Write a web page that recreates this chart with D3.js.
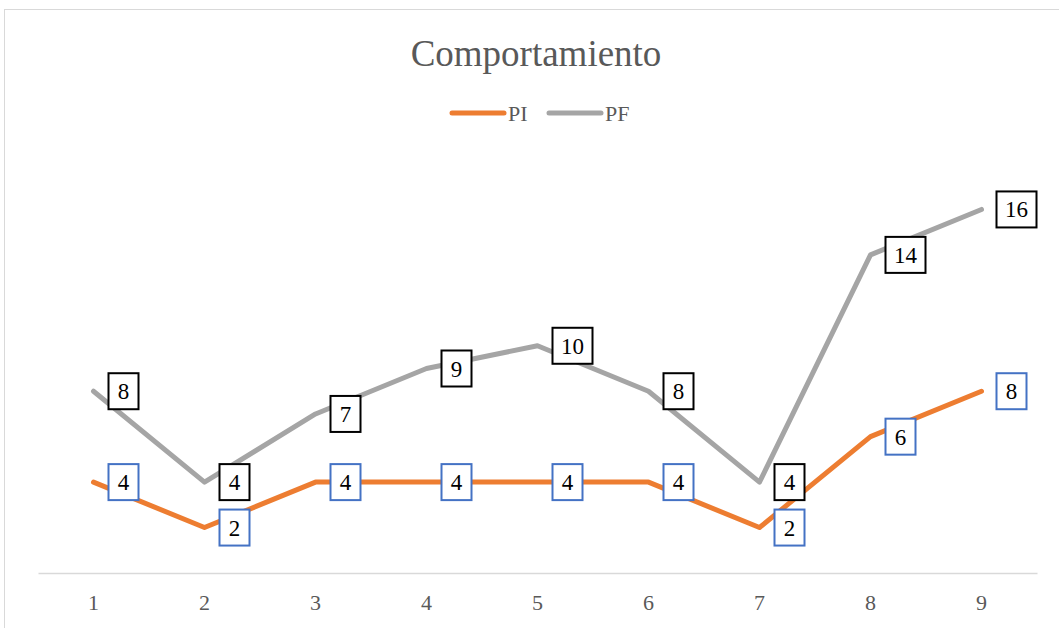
<!DOCTYPE html>
<html>
<head>
<meta charset="utf-8">
<script src="https://cdn.jsdelivr.net/npm/d3@7"></script>
<style>
  body { margin: 0; background: #fff; }
  svg { display: block; font-family: "Liberation Serif", "Times New Roman", serif; }
</style>
</head>
<body>
<svg id="chart" width="1059" height="628"></svg>
<script>
var categories = ["1", "2", "3", "4", "5", "6", "7", "8", "9"];
var piValues = [4, 2, 4, 4, 4, 4, 2, 6, 8];
var pfValues = [8, 4, 7, 9, 10, 8, 4, 14, 16];
var seriesNames = ["PI", "PF"];

var svg = d3.select("#chart");
var width = +svg.attr("width"),
    height = +svg.attr("height");

// chart area border (cut off at right and bottom like the original)
svg.append("rect")
  .attr("x", 4.5).attr("y", 9.5)
  .attr("width", 1100).attr("height", 700)
  .attr("fill", "#fff")
  .attr("stroke", "#d9d9d9");

var x = d3.scaleBand().domain(categories).range([38, 1037]);
var y = d3.scaleLinear().domain([0, 18]).range([573, 164]);

var series = [
  { name: seriesNames[0], values: piValues, color: "#ed7d31", box: "#4472c4" },
  { name: seriesNames[1], values: pfValues, color: "#a5a5a5", box: "#000000" }
];

// title
svg.append("text")
  .attr("x", 536).attr("y", 66)
  .attr("text-anchor", "middle")
  .attr("font-size", 37)
  .attr("fill", "#595959")
  .text("Comportamiento");

// legend
var legend = svg.append("g").attr("transform", "translate(452,113)");
series.forEach(function(s, i) {
  var lg = legend.append("g").attr("transform", "translate(" + (i * 97) + ",0)");
  lg.append("line")
    .attr("x1", 0).attr("x2", 52).attr("y1", 0).attr("y2", 0)
    .attr("stroke", s.color).attr("stroke-width", 5)
    .attr("stroke-linecap", "round");
  lg.append("text")
    .attr("x", 56).attr("y", 8)
    .attr("font-size", 22)
    .attr("fill", "#595959")
    .text(s.name);
});

// x axis
var xAxis = svg.append("g")
  .attr("transform", "translate(0," + y(0) + ")")
  .call(d3.axisBottom(x).tickSize(0).tickPadding(21));
xAxis.select(".domain").attr("stroke", "#d9d9d9").attr("stroke-width", 1.5);
xAxis.selectAll("text")
  .attr("font-family", "Liberation Serif, serif")
  .attr("font-size", 22)
  .attr("fill", "#595959");

var line = d3.line()
  .x(function(d, i) { return x(categories[i]) + x.bandwidth() / 2; })
  .y(function(d) { return y(d); });

// lines
series.forEach(function(s) {
  svg.append("path")
    .datum(s.values)
    .attr("d", line)
    .attr("fill", "none")
    .attr("stroke", s.color)
    .attr("stroke-width", 5)
    .attr("stroke-linejoin", "round")
    .attr("stroke-linecap", "round");
});

// data labels
series.forEach(function(s) {
  var g = svg.append("g");
  s.values.forEach(function(v, i) {
    var cx = x(categories[i]) + x.bandwidth() / 2;
    var cy = y(v);
    var txt = String(v);
    var w = txt.length > 1 ? 40 : 30;
    var lbl = g.append("g").attr("transform", "translate(" + (cx + 15) + "," + cy + ")");
    lbl.append("rect")
      .attr("x", 0).attr("y", -18)
      .attr("width", w).attr("height", 36)
      .attr("fill", "#fff")
      .attr("stroke", s.box)
      .attr("stroke-width", 2);
    lbl.append("text")
      .attr("x", w / 2).attr("y", 8)
      .attr("text-anchor", "middle")
      .attr("font-size", 23)
      .attr("fill", "#000")
      .text(txt);
  });
});
</script>
</body>
</html>
